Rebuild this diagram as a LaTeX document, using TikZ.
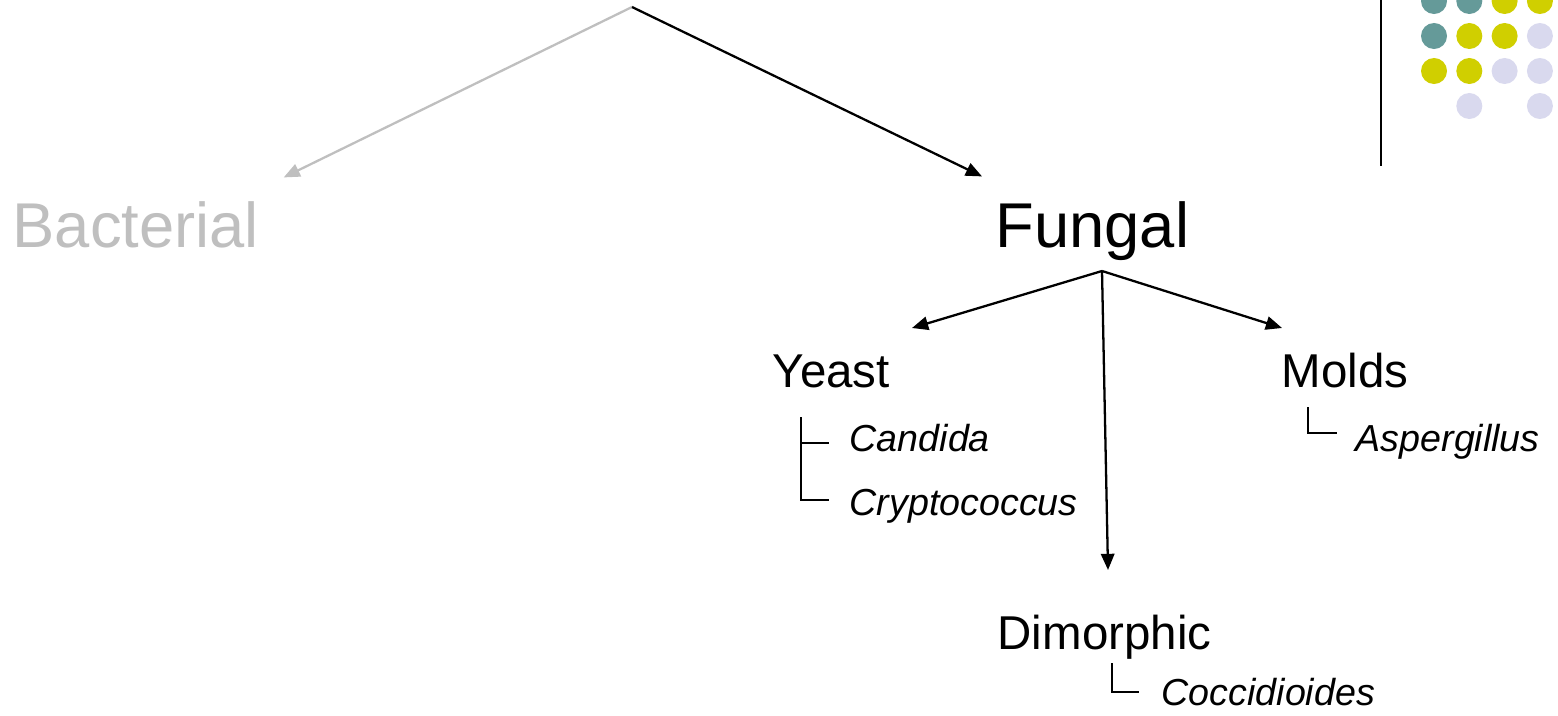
\documentclass[tikz,border=0pt]{standalone}
\usepackage{fontspec}
\setmainfont{Liberation Sans}
\usetikzlibrary{arrows.meta,positioning}
\definecolor{dotteal}{HTML}{659A99}
\definecolor{dotyellow}{HTML}{D0CF00}
\definecolor{dotlav}{HTML}{D9D9EE}
\definecolor{fadegray}{HTML}{BFBFBF}

\begin{document}
\begin{tikzpicture}[x=0.01cm, y=-0.01cm,
  group/.style={font=\fontsize{18}{20}\selectfont, inner sep=0pt,
    anchor=base west},
  kind/.style={font=\fontsize{13.5}{15}\selectfont, inner sep=0pt,
    anchor=base west},
  genus/.style={font=\fontsize{10.7}{12}\selectfont\itshape, inner sep=0pt,
    anchor=base west},
  link/.style={line width=0.65pt, -{Triangle[length=4.6pt,width=3.8pt]}},
  tick/.style={line width=0.4pt},
  dot/.style={circle, inner sep=0pt, minimum size=0.26cm}
]
\useasboundingbox (0,0) rectangle (1558,715);

% Corner dots and rule
\foreach \c/\r/\col in {0/0/dotteal, 1/0/dotteal, 2/0/dotyellow, 3/0/dotyellow,
    0/1/dotteal, 1/1/dotyellow, 2/1/dotyellow, 3/1/dotlav,
    0/2/dotyellow, 1/2/dotyellow, 2/2/dotlav, 3/2/dotlav,
    1/3/dotlav, 3/3/dotlav}
  \node[dot, fill=\col] (d\c\r) at ({1434+35.3*\c},{1+35*\r}) {};
\draw[line width=0.6pt] (1381,0) -- (1381,166);

% Top split
\coordinate (top) at (632,7);
\node[group, text=fadegray] (bact) at (12,247) {Bacterial};
\node[group] (fungal) at (995,247) {Fungal};
\draw[link, fadegray] (top) -- ([shift={(24,-23)}]bact.north east);
\draw[link] (top) -- ([shift={(-13,-24)}]fungal.north west);

% Fungal kinds
\coordinate (fork) at (1102,271);
\node[kind] (yeast) at (772,387) {Yeast};
\node[kind] (molds) at (1281,387) {Molds};
\node[kind] (dimorph) at (997,649) {Dimorphic};
\draw[link] (fork) -- (912,328);
\draw[link] (fork) -- (1282,328);
\draw[link] (fork) -- (1108,570);

% Yeast
\node[genus] (candida) at (849,451) {Candida};
\node[genus] (crypto) at (849,515) {Cryptococcus};
\draw[tick] ([shift={(-48,-34)}]candida.base west)
  |- ([shift={(-20,-15)}]crypto.base west);
\draw[tick] ([shift={(-48,-8)}]candida.base west)
  -- ([shift={(-20,-8)}]candida.base west);

% Molds
\node[genus] (asperg) at (1355,451) {Aspergillus};
\draw[tick] ([shift={(-47,-44)}]asperg.base west)
  |- ([shift={(-18,-18)}]asperg.base west);

% Dimorphic
\node[genus] (cocci) at (1161,705) {Coccidioides};
\draw[tick] ([shift={(-49,-42)}]cocci.base west)
  |- ([shift={(-22,-13)}]cocci.base west);

\end{tikzpicture}
\end{document}
